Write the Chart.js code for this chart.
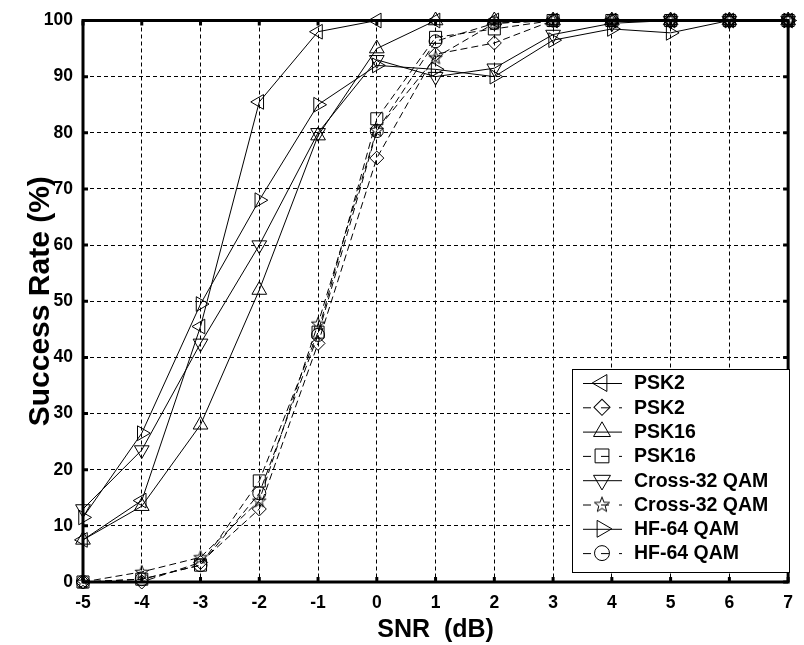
<!DOCTYPE html>
<html>
<head>
<meta charset="utf-8">
<script src="https://cdn.jsdelivr.net/npm/chart.js@4.4.1/dist/chart.umd.min.js"></script>
<style>
html,body{margin:0;padding:0;background:#fff;}
#wrap{width:804px;height:645px;}
</style>
</head>
<body>
<div id="wrap"><canvas id="c" width="804" height="645"></canvas></div>
<script>
const snr = [-5, -4, -3, -2, -1, 0, 1, 2, 3, 4, 5, 6, 7];
const yTicks = [0, 10, 20, 30, 40, 50, 60, 70, 80, 90, 100];
const seriesNames = ['PSK2', 'PSK2', 'PSK16', 'PSK16', 'Cross-32 QAM', 'Cross-32 QAM', 'HF-64 QAM', 'HF-64 QAM'];
const psk2Solid   = [7.5, 14.5, 45.5, 85.5, 98, 100, 100, 100, 100, 100, 100, 100, 100];
const psk2Dashed  = [0, 0, 3.5, 13, 42.5, 75.5, 94, 96, 100, 100, 100, 100, 100];
const psk16Solid  = [7.5, 13.5, 28, 52, 79.5, 95, 100, 100, 100, 100, 100, 100, 100];
const psk16Dashed = [0, 0.5, 3, 18, 44.5, 82.5, 97, 98.5, 100, 100, 100, 100, 100];
const crossSolid  = [13, 23.5, 42.5, 60, 80, 93, 90, 91.5, 97.5, 99.5, 100, 100, 100];
const crossDashed = [0, 1.8, 4.4, 14.5, 46, 80.5, 93.4, 99.5, 100, 100, 100, 100, 100];
const hfSolid     = [11.5, 26.5, 49.5, 68, 85, 92, 91.3, 90, 96.5, 98.5, 97.8, 100, 100];
const hfDashed    = [0, 0.5, 3, 15.8, 44, 80.3, 96.3, 99.5, 100, 100, 100, 100, 100];

function starCanvas(size){
  const c = document.createElement('canvas');
  c.width = size; c.height = size;
  const g = c.getContext('2d');
  g.strokeStyle = '#000'; g.lineWidth = 1;
  const m = size / 2, ro = size / 2 - 1, ri = ro * 0.42;
  g.beginPath();
  for (let i = 0; i < 10; i++) {
    const r = i % 2 === 0 ? ro : ri;
    const a = -Math.PI / 2 + i * Math.PI / 5;
    const px = m + r * Math.cos(a), py = m + 0.5 + r * Math.sin(a);
    if (i === 0) g.moveTo(px, py); else g.lineTo(px, py);
  }
  g.closePath(); g.stroke();
  return c;
}
const star = starCanvas(16);
const starBig = starCanvas(18);

function pts(v){ return snr.map((x, i) => ({x: x, y: v[i]})); }
const DASH = [7, 4];
function ds(label, v, style, rot, rad, dashed){
  return {
    label: label, data: pts(v),
    borderColor: '#000', backgroundColor: 'rgba(0,0,0,0)',
    borderWidth: 1, borderDash: dashed ? DASH : [],
    pointStyle: style, pointRotation: rot, pointRadius: rad, pointHoverRadius: rad,
    pointBorderColor: '#000', pointBackgroundColor: 'rgba(0,0,0,0)', pointBorderWidth: 1,
    tension: 0, clip: false, fill: false
  };
}
const datasets = [
  ds(seriesNames[0], psk2Solid, 'triangle', -90, 8.5, false),
  ds(seriesNames[1], psk2Dashed, 'rectRot', 0, 7, true),
  ds(seriesNames[2], psk16Solid, 'triangle', 0, 8.5, false),
  ds(seriesNames[3], psk16Dashed, 'rect', 0, 8.5, true),
  ds(seriesNames[4], crossSolid, 'triangle', 180, 8.5, false),
  ds(seriesNames[5], crossDashed, star, 0, 7, true),
  ds(seriesNames[6], hfSolid, 'triangle', 90, 8.5, false),
  ds(seriesNames[7], hfDashed, 'circle', 0, 6.5, true)
];

function drawMarker(ctx, d, x, y, scale){
  const r = d.pointRadius * scale;
  ctx.save();
  ctx.setLineDash([]);
  ctx.lineWidth = 1; ctx.strokeStyle = '#000';
  if (typeof d.pointStyle !== 'string') {
    ctx.drawImage(starBig, x - 9, y - 9);
    ctx.restore(); return;
  }
  ctx.translate(x, y);
  ctx.rotate(d.pointRotation * Math.PI / 180);
  ctx.beginPath();
  if (d.pointStyle === 'triangle') {
    const e = 3 * r / Math.sqrt(3);
    const h = e * Math.sqrt(3) / 2;
    ctx.moveTo(-e / 2, h / 3);
    ctx.lineTo(e / 2, h / 3);
    ctx.lineTo(0, -2 * h / 3);
    ctx.closePath();
  } else if (d.pointStyle === 'rect') {
    const s = r * Math.SQRT1_2;
    ctx.rect(-s, -s, 2 * s, 2 * s);
  } else if (d.pointStyle === 'rectRot') {
    const s = r * Math.SQRT1_2;
    ctx.rotate(Math.PI / 4);
    ctx.rect(-s, -s, 2 * s, 2 * s);
  } else if (d.pointStyle === 'circle') {
    ctx.arc(0, 0, r, 0, Math.PI * 2);
  }
  ctx.stroke();
  ctx.restore();
}

const framePlugin = {
  id: 'frame',
  beforeDatasetsDraw(chart){
    const {ctx, chartArea: a, scales} = chart;
    ctx.save();
    ctx.strokeStyle = '#000';
    ctx.lineWidth = 3;
    ctx.setLineDash([]);
    const tl = 5;
    ctx.beginPath();
    snr.forEach(v => {
      const px = scales.x.getPixelForValue(v);
      ctx.moveTo(px, a.bottom); ctx.lineTo(px, a.bottom - tl);
      ctx.moveTo(px, a.top); ctx.lineTo(px, a.top + tl);
    });
    yTicks.forEach(v => {
      const py = scales.y.getPixelForValue(v);
      ctx.moveTo(a.left, py); ctx.lineTo(a.left + tl, py);
      ctx.moveTo(a.right, py); ctx.lineTo(a.right - tl, py);
    });
    ctx.stroke();
    ctx.strokeRect(a.left, a.top, a.right - a.left, a.bottom - a.top);
    ctx.restore();
  },
  afterDraw(chart){
    const ctx = chart.ctx;
    const bx = 572, by = 369, bw = 217, bh = 203;
    ctx.save();
    ctx.fillStyle = '#fff';
    ctx.fillRect(bx, by, bw, bh);
    ctx.strokeStyle = '#000'; ctx.lineWidth = 1; ctx.setLineDash([]);
    ctx.strokeRect(bx + 0.5, by + 0.5, bw, bh);
    const ds = chart.data.datasets;
    ds.forEach((d, i) => {
      const y = 383 + i * 24.3;
      ctx.save();
      ctx.strokeStyle = '#000'; ctx.lineWidth = 1;
      ctx.setLineDash(d.borderDash.length ? [8, 10] : []);
      ctx.beginPath();
      ctx.moveTo(583, y + 0.5); ctx.lineTo(622, y + 0.5);
      ctx.stroke();
      ctx.restore();
      drawMarker(ctx, d, 602, y, 1.15);
      ctx.fillStyle = '#000';
      ctx.font = 'bold 19.5px "Liberation Sans", Arial, sans-serif';
      ctx.textBaseline = 'middle';
      ctx.textAlign = 'left';
      ctx.fillText(d.label, 634, y + 1);
    });
    ctx.restore();
  }
};

const tickFont = {family: '"Liberation Sans", Arial, sans-serif', size: 17.5, weight: 'bold'};
new Chart(document.getElementById('c'), {
  type: 'line',
  data: {datasets: datasets},
  options: {
    responsive: false,
    animation: false,
    events: [],
    layout: {padding: {top: 18, right: 10, left: 0, bottom: 0}},
    plugins: {legend: {display: false}, tooltip: {enabled: false}, title: {display: false}},
    scales: {
      x: {
        type: 'linear', min: -5, max: 7,
        afterBuildTicks: s => { s.ticks = snr.map(v => ({value: v})); },
        afterFit: s => { s.height = 63; },
        ticks: {color: '#000', font: tickFont, padding: 11, maxRotation: 0, autoSkip: false},
        grid: {color: '#000', lineWidth: 1, drawTicks: false},
        border: {display: false, dash: [4, 3]},
        title: {display: true, text: 'SNR  (dB)', color: '#000', padding: 0,
          font: {family: '"Liberation Sans", Arial, sans-serif', size: 25, weight: 'bold'}}
      },
      y: {
        type: 'linear', min: 0, max: 100,
        afterBuildTicks: s => { s.ticks = yTicks.map(v => ({value: v})); },
        afterFit: s => { s.width = 83; },
        ticks: {color: '#000', font: tickFont, padding: 10},
        grid: {color: '#000', lineWidth: 1, drawTicks: false},
        border: {display: false, dash: [4, 3]},
        title: {display: true, text: 'Success Rate (%)', color: '#000', padding: 23,
          font: {family: '"Liberation Sans", Arial, sans-serif', size: 30, weight: 'bold'}}
      }
    }
  },
  plugins: [framePlugin]
});
</script>
</body>
</html>
